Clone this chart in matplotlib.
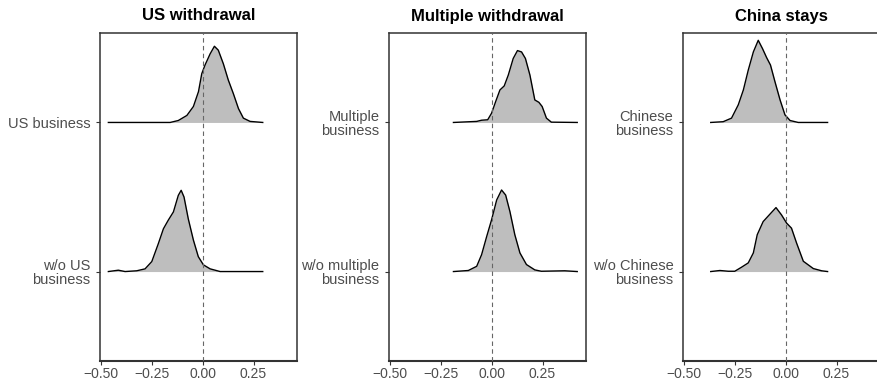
import matplotlib
matplotlib.use("Agg")
import matplotlib.pyplot as plt

plt.rcParams["font.family"] = ["Liberation Sans", "DejaVu Sans"]

titles = ["US withdrawal", "Multiple withdrawal", "China stays"]
ylabels = [
    ["w/o US\nbusiness", "US business"],
    ["w/o multiple\nbusiness", "Multiple\nbusiness"],
    ["w/o Chinese\nbusiness", "Chinese\nbusiness"],
]
xticks = [-0.5, -0.25, 0.0, 0.25]
xtick_labels = ["\u22120.50", "\u22120.25", "0.00", "0.25"]

# ridge curves: (x, height) for the lower and upper ridge
us_wo_x = [-0.462, -0.413, -0.380, -0.323, -0.282, -0.249, -0.217, -0.192, -0.168, -0.143,
           -0.119, -0.105, -0.091, -0.070, -0.045, -0.021, 0.004, 0.037, 0.086, 0.295]
us_wo_h = [0, 0.009, 0, 0.005, 0.018, 0.067, 0.187, 0.287, 0.345, 0.400,
           0.511, 0.545, 0.500, 0.353, 0.211, 0.100, 0.045, 0.018, 0, 0]
us_x = [-0.462, -0.159, -0.119, -0.077, -0.045, -0.020, -0.004, 0.012, 0.037, 0.058,
        0.077, 0.102, 0.126, 0.151, 0.176, 0.200, 0.233, 0.295]
us_h = [0, 0, 0.013, 0.047, 0.107, 0.207, 0.327, 0.385, 0.460, 0.511,
        0.485, 0.393, 0.285, 0.193, 0.093, 0.029, 0.007, 0]

mult_wo_x = [-0.187, -0.114, -0.073, -0.049, -0.024, 0.0, 0.025, 0.049, 0.069, 0.090,
             0.114, 0.139, 0.171, 0.212, 0.244, 0.359, 0.420]
mult_wo_h = [0, 0.007, 0.035, 0.113, 0.235, 0.347, 0.480, 0.547, 0.513, 0.402,
             0.247, 0.125, 0.047, 0.011, 0.002, 0.005, 0]
mult_x = [-0.187, -0.073, -0.049, -0.019, 0.0, 0.020, 0.041, 0.062, 0.082, 0.106,
          0.127, 0.147, 0.166, 0.188, 0.212, 0.232, 0.248, 0.269, 0.293, 0.420]
mult_h = [0, 0.007, 0.015, 0.018, 0.062, 0.140, 0.218, 0.245, 0.318, 0.429,
          0.482, 0.473, 0.429, 0.318, 0.151, 0.135, 0.107, 0.029, 0.002, 0]

cn_wo_x = [-0.367, -0.322, -0.281, -0.249, -0.216, -0.183, -0.158, -0.139, -0.110, -0.080,
           -0.047, -0.020, 0.005, 0.029, 0.054, 0.087, 0.136, 0.177, 0.206]
cn_wo_h = [0, 0.007, 0.002, 0.002, 0.029, 0.058, 0.125, 0.247, 0.335, 0.380,
           0.429, 0.380, 0.325, 0.291, 0.191, 0.069, 0.020, 0.005, 0]
cn_x = [-0.367, -0.306, -0.265, -0.232, -0.207, -0.183, -0.158, -0.134, -0.113, -0.093,
        -0.074, -0.052, -0.027, -0.003, 0.022, 0.062, 0.206]
cn_h = [0, 0.005, 0.029, 0.118, 0.218, 0.351, 0.473, 0.551, 0.495, 0.435,
        0.385, 0.273, 0.151, 0.051, 0.013, 0, 0]

panels = [
    [(us_wo_x, us_wo_h), (us_x, us_h)],
    [(mult_wo_x, mult_wo_h), (mult_x, mult_h)],
    [(cn_wo_x, cn_wo_h), (cn_x, cn_h)],
]

W, H = 877, 381
fig = plt.figure(figsize=(W / 100, H / 100), dpi=100)
lefts = [100, 389, 683]
for i, left in enumerate(lefts):
    ax = fig.add_axes([left / W, (H - 361) / H, 197 / W, 328 / H])
    for base, (x, h) in zip([1, 2], panels[i]):
        top = [base + v for v in h]
        ax.fill_between(x, base, top, color="#BEBEBE", lw=0, zorder=2)
        ax.plot(x, top, color="black", lw=1.0, solid_joinstyle="round", zorder=3)
    ax.axvline(0, color="#666666", lw=0.8, ls=(0, (4, 3)), zorder=4)
    ax.set_xlim(-0.503, 0.463)
    ax.set_ylim(0.4, 2.6)
    ax.set_xticks(xticks)
    ax.set_xticklabels(xtick_labels)
    ax.set_yticks([1, 2])
    ax.set_yticklabels(ylabels[i], linespacing=1.0)
    ax.tick_params(labelsize=10.5, labelcolor="#4D4D4D", color="#333333",
                   length=3, width=0.8, pad=4)
    ax.tick_params(axis="x", labelsize=10, pad=1.5)
    for sp in ax.spines.values():
        sp.set_color("#333333")
        sp.set_linewidth(1.1)
    ax.spines["bottom"].set_linewidth(1.5)
    ax.set_title(titles[i], fontsize=12, fontweight="bold", pad=9)

fig.savefig("out.png", dpi=100)
